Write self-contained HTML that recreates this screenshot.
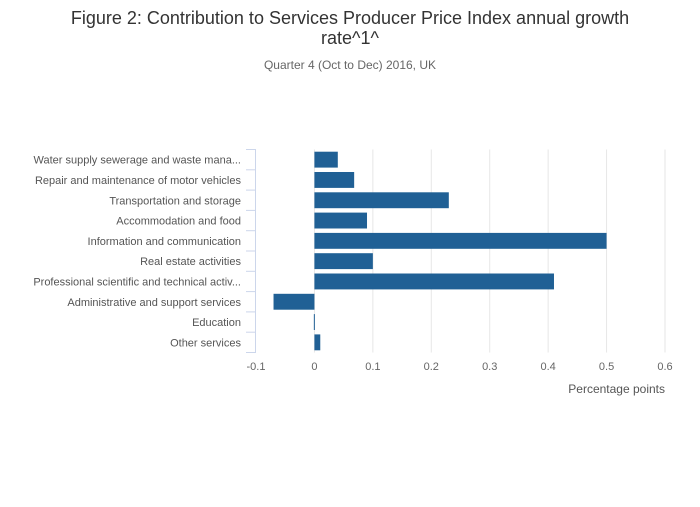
<!DOCTYPE html>
<html><head><meta charset="utf-8"><style>
body{margin:0;background:#fff;font-family:"Liberation Sans",sans-serif}
</style></head><body>
<svg id="chart" width="700" height="502" xmlns="http://www.w3.org/2000/svg" style="font-family:'Liberation Sans',sans-serif">
<rect width="700" height="502" fill="#fff"/>
<text x="350" y="24" text-anchor="middle" font-size="18" fill="#333">Figure 2: Contribution to Services Producer Price Index annual growth</text>
<text x="350" y="44" text-anchor="middle" font-size="18" fill="#333">rate^1^</text>
<text x="350" y="69" text-anchor="middle" font-size="12" fill="#666">Quarter 4 (Oct to Dec) 2016, UK</text>
<g id="grid"></g><g id="bars"></g><g id="axes"></g>
<text x="665" y="393" text-anchor="end" font-size="12" fill="#555">Percentage points</text>
</svg>
<script>
const categories=["Water supply sewerage and waste mana...","Repair and maintenance of motor vehicles","Transportation and storage","Accommodation and food","Information and communication","Real estate activities","Professional scientific and technical activ...","Administrative and support services","Education","Other services"];
const values=[0.04,0.068,0.23,0.09,0.5,0.1,0.41,-0.07,-0.001,0.01];
const ticks=[-0.1,0,0.1,0.2,0.3,0.4,0.5,0.6];
const tickLabels=["-0.1","0","0.1","0.2","0.3","0.4","0.5","0.6"];
const NS="http://www.w3.org/2000/svg";
const x0=256,x1=665,plotTop=149.5,plotBottom=352.5,dmin=-0.1,dmax=0.6;
const X=v=>x0+(v-dmin)/(dmax-dmin)*(x1-x0);
const band=(plotBottom-plotTop)/categories.length;
const Y=i=>plotTop+i*band;
function mk(t,a,p){const e=document.createElementNS(NS,t);for(const k in a)e.setAttribute(k,a[k]);p.appendChild(e);return e;}
const grid=document.getElementById('grid'),bars=document.getElementById('bars'),axes=document.getElementById('axes');
ticks.forEach((t,i)=>{
 if(t>dmin){const l=mk('line',{x1:X(t),x2:X(t),y1:plotTop,y2:plotBottom,stroke:'#e6e6e6','stroke-width':1},grid);
 
 }
 const tx=mk('text',{x:X(t),y:370,'text-anchor':'middle','font-size':11,fill:'#666'},axes);tx.textContent=tickLabels[i];
 
 
});
const ax=mk('line',{x1:x0-0.5,x2:x0-0.5,y1:plotTop,y2:plotBottom,stroke:'#ccd6eb'},axes);


for(let i=0;i<=categories.length;i++){const l=mk('line',{x1:x0-10,x2:x0,y1:Y(i),y2:Y(i),stroke:'#ccd6eb'},axes);
 
 }
categories.forEach((c,i)=>{
 const v=values[i];const a=X(Math.min(0,v)),b=X(Math.max(0,v));
 const r=mk('rect',{x:a,y:Y(i)+2.2,width:Math.max(1,b-a),height:band-4.4,fill:'#206095'},bars);
 
 
 const t=mk('text',{x:241,y:Y(i)+band/2+4,'text-anchor':'end','font-size':11,fill:'#555'},axes);t.textContent=c;
 
 
});
</script>
</body></html>
